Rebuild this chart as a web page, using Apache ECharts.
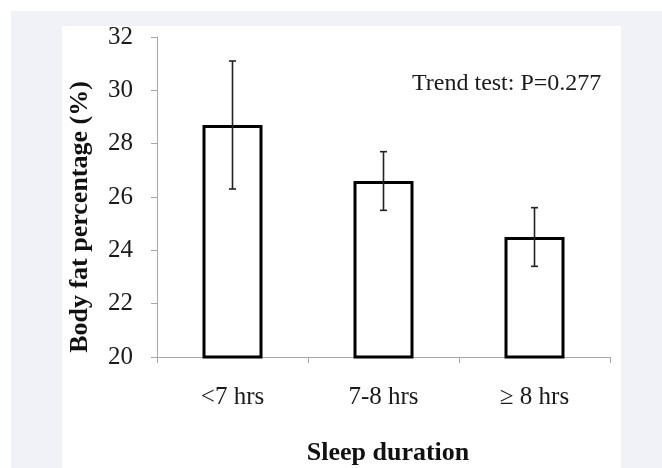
<!DOCTYPE html>
<html>
<head>
<meta charset="utf-8">
<script src="https://cdn.jsdelivr.net/npm/echarts@6/dist/echarts.min.js"></script>
<style>
html,body{margin:0;padding:0;background:#ffffff;}
#chart{width:662px;height:468px;}
</style>
</head>
<body>
<div id="chart"></div>
<script>
var categories = ['<7 hrs', '7-8 hrs', '\u2265 8 hrs'];
var means = [28.7, 26.6, 24.5];
var upper = [31.1, 27.7, 25.6];
var lower = [26.3, 25.5, 23.4];
var yTicks = [20, 22, 24, 26, 28, 30, 32];
var annotation = 'Trend test: P=0.277';

var serif = '"Liberation Serif", "Times New Roman", serif';
var chart = echarts.init(document.getElementById('chart'));
var errData = categories.map(function (c, i) { return [i, lower[i], upper[i]]; });

chart.setOption({
  animation: false,
  backgroundColor: '#ffffff',
  graphic: [
    { type: 'rect', z: -10, silent: true, shape: { x: 11, y: 11, width: 651, height: 457 }, style: { fill: '#f0f2f7' } },
    { type: 'rect', z: -9, silent: true, shape: { x: 62, y: 26, width: 559, height: 442 }, style: { fill: '#ffffff' } },
    { type: 'text', left: 412, top: 72, style: { text: annotation, font: '24px ' + serif, fill: '#1a1a1a' } }
  ],
  grid: { left: 157, right: 52, top: 37, bottom: 111, containLabel: false, outerBoundsMode: 'none' },
  xAxis: {
    type: 'category',
    data: categories,
    name: 'Sleep duration',
    nameLocation: 'middle',
    nameGap: 83,
    nameTextStyle: { fontFamily: serif, fontSize: 26, fontWeight: 'bold', color: '#111', padding: [0, 0, 0, 9] },
    axisLine: { lineStyle: { color: '#a8a8a8', width: 1 } },
    axisTick: { show: true, length: 6, alignWithLabel: false, lineStyle: { color: '#a8a8a8' } },
    axisLabel: { fontFamily: serif, fontSize: 25, color: '#1a1a1a', margin: 28 }
  },
  yAxis: {
    type: 'value',
    min: yTicks[0],
    max: yTicks[yTicks.length - 1],
    interval: 2,
    name: 'Body fat percentage (%)',
    nameLocation: 'middle',
    nameGap: 64,
    nameTextStyle: { fontFamily: serif, fontSize: 26, fontWeight: 'bold', color: '#111', padding: [0, 40, 0, 0] },
    axisLine: { show: true, lineStyle: { color: '#a8a8a8', width: 1 } },
    axisTick: { show: true, length: 6, lineStyle: { color: '#a8a8a8' } },
    splitLine: { show: false },
    axisLabel: { fontFamily: serif, fontSize: 25, color: '#1a1a1a', margin: 24 }
  },
  series: [
    {
      type: 'bar',
      data: means,
      barWidth: 60,
      itemStyle: { color: '#ffffff', borderColor: '#000000', borderWidth: 3 },
      z: 2
    },
    {
      type: 'custom',
      data: errData,
      z: 5,
      renderItem: function (params, api) {
        var x = api.value(0);
        var lo = api.coord([x, api.value(1)]);
        var hi = api.coord([x, api.value(2)]);
        var cap = 3.5;
        var st = { stroke: '#222222', lineWidth: 1.6 };
        return {
          type: 'group',
          children: [
            { type: 'line', shape: { x1: lo[0], y1: lo[1], x2: hi[0], y2: hi[1] }, style: st },
            { type: 'line', shape: { x1: hi[0] - cap, y1: hi[1], x2: hi[0] + cap, y2: hi[1] }, style: st },
            { type: 'line', shape: { x1: lo[0] - cap, y1: lo[1], x2: lo[0] + cap, y2: lo[1] }, style: st }
          ]
        };
      }
    }
  ]
});
</script>
</body>
</html>
